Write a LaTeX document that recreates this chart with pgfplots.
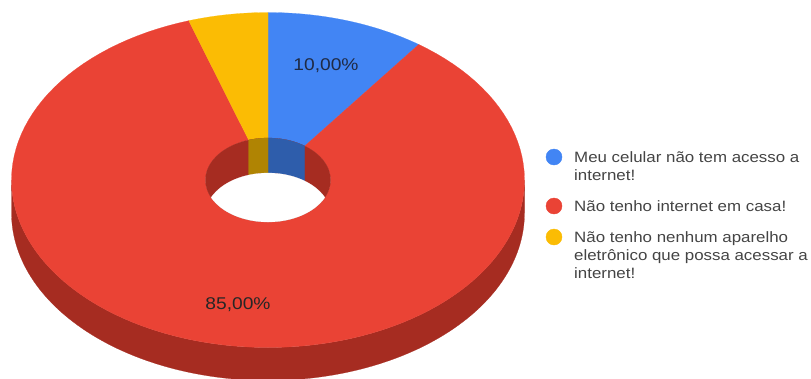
\documentclass[border=0pt]{standalone}
\usepackage{pgfplots}
\usepackage{pgfplotstable}
\usepackage{fontspec}
\setmainfont{Liberation Sans}
\pgfplotsset{compat=1.18}

\definecolor{gblue}{HTML}{4285F4}
\definecolor{gred}{HTML}{EA4335}
\definecolor{gyellow}{HTML}{FBBC04}
\definecolor{wallblue}{HTML}{2E5DAB}
\definecolor{wallred}{HTML}{A62C21}
\definecolor{wallyellow}{HTML}{B08403}
\definecolor{legendtext}{HTML}{444444}
\definecolor{slicelabel}{HTML}{1F2A44}

% Shares of the three answers, in per cent
\pgfplotstableread{
share
10
85
5
}\answers
\pgfplotstablegetelem{0}{share}\of\answers\pgfmathsetmacro\shareA{\pgfplotsretval}
\pgfplotstablegetelem{1}{share}\of\answers\pgfmathsetmacro\shareB{\pgfplotsretval}
\pgfmathsetmacro\angA{3.6*\shareA}
\pgfmathsetmacro\angB{\angA+3.6*\shareB}

% Ring band: arc #2..#3 on ellipse (#4,#5,cy=#6), straight join, arc back on (#7,#8,cy=#9)
\newcommand\band[9]{%
  \addplot[fill=#1,draw=#1,line width=0.2pt,domain=0:3,samples=361,variable=\s]
  ({268+((#4)+((#7)-(#4))*min(max(\s-1,0),1))*sin((#2)+((#3)-(#2))*min(\s,1)-((#3)-(#2))*max(\s-2,0))},
   {((#6)+((#9)-(#6))*min(max(\s-1,0),1))-((#5)+((#8)-(#5))*min(max(\s-1,0),1))*cos((#2)+((#3)-(#2))*min(\s,1)-((#3)-(#2))*max(\s-2,0))})
  --cycle;
}

\begin{document}
\begin{tikzpicture}
\path[use as bounding box] (0,0) rectangle (811pt,378pt);
\begin{axis}[
  at={(0,0)},anchor=south west,
  width=811pt,height=378pt,scale only axis,
  xmin=0,xmax=811,ymin=0,ymax=378,y dir=reverse,
  hide axis,clip=true]

% outer rim, front half
\band{wallred}{90}{270}{256.5}{167.5}{180}{256.5}{167.5}{213}
% top surface
\band{gblue}{0}{\angA}{256.5}{167.5}{180}{62.5}{42}{180}
\band{gred}{\angA}{\angB}{256.5}{167.5}{180}{62.5}{42}{180}
\band{gyellow}{\angB}{360}{256.5}{167.5}{180}{62.5}{42}{180}
% inside wall of the hole
\band{wallred}{0}{180}{62.5}{42}{180}{-62.5}{42}{180}
\band{wallblue}{0}{\angA}{62.5}{42}{180}{62.5}{42}{215}
\band{wallyellow}{\angB}{360}{62.5}{42}{180}{62.5}{42}{215}
% opening seen through the hole
\band{white}{-65.4}{65.4}{62.5}{42}{215}{62.5}{-42}{180}

% legend markers
\addplot[only marks,mark=*,mark size=8pt,mark options={draw=gblue,fill=gblue}] coordinates {(554,157)};
\addplot[only marks,mark=*,mark size=8pt,mark options={draw=gred,fill=gred}] coordinates {(554,206)};
\addplot[only marks,mark=*,mark size=8pt,mark options={draw=gyellow,fill=gyellow}] coordinates {(554,237)};

\begin{scope}[every node/.style={anchor=base west,inner sep=0pt,text=legendtext,xscale=1.125,font=\fontsize{15}{18}\selectfont}]
\node at (axis cs:574,162) {Meu celular não tem acesso a};
\node at (axis cs:574,180) {internet!};
\node at (axis cs:574,211) {Não tenho internet em casa!};
\node at (axis cs:574,242) {Não tenho nenhum aparelho};
\node at (axis cs:574,260) {eletrônico que possa acessar a};
\node at (axis cs:574,278) {internet!};
\end{scope}

\node[anchor=center,inner sep=0pt,text=slicelabel,xscale=1.13,font=\fontsize{17}{20}\selectfont] at (axis cs:326,66) {10,00\%};
\node[anchor=center,inner sep=0pt,text=black!85,xscale=1.13,font=\fontsize{17}{20}\selectfont] at (axis cs:238,305) {85,00\%};
\end{axis}
\end{tikzpicture}
\end{document}
